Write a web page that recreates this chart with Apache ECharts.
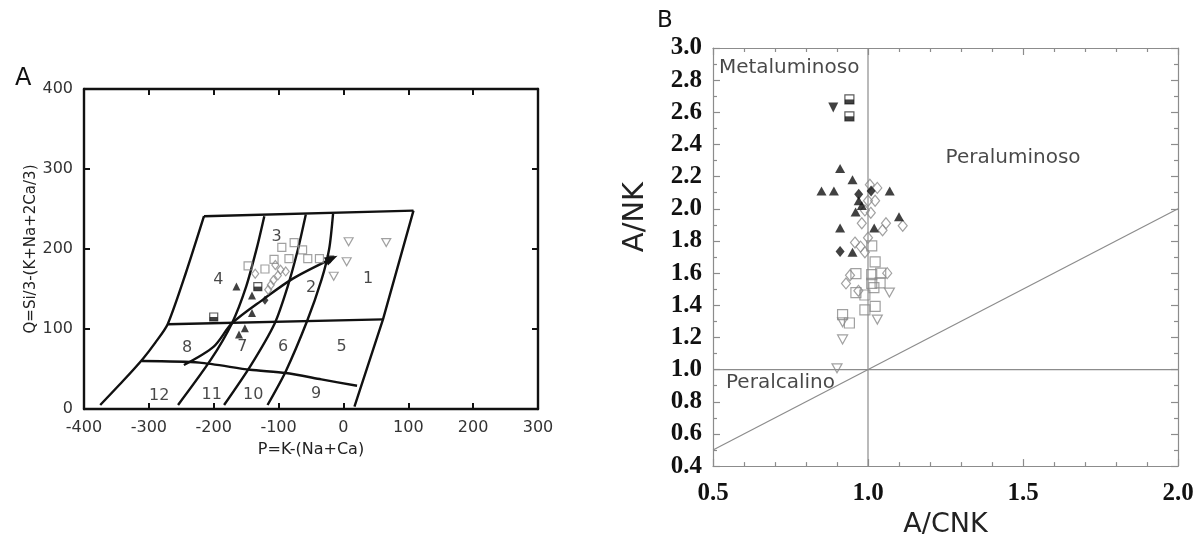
<!DOCTYPE html>
<html>
<head>
<meta charset="utf-8">
<script src="https://cdn.jsdelivr.net/npm/echarts/dist/echarts.min.js"></script>
<style>
  html, body { margin: 0; padding: 0; background: #fff; }
  #chart { width: 1200px; height: 543px; }
</style>
</head>
<body>
<div id="chart"></div>
<script>
// ---------- Panel A: P–Q diagram (P = K-(Na+Ca), Q = Si/3-(K+Na+2Ca/3)) ----------
const pTicksA = [-400, 300, 100];          // min, max, step
const qTicksA = [0, 400, 100];

// field boundaries
const topBoundary    = [[-215, 241], [108, 248]];
const rightBoundary  = [[108, 248], [61, 112], [17, 3]];
const leftBoundary   = [[-215, 241], [-243, 170], [-271, 106], [-290, 83], [-310, 62], [-340, 35], [-375, 5]];
const lineA          = [[-122, 241], [-133, 203], [-150, 153], [-172, 107], [-205, 61], [-255, 5]];
const lineB          = [[-58, 243], [-70, 200], [-86, 153], [-106, 107], [-144, 53], [-184, 5]];
const lineC          = [[-16, 244], [-22, 200], [-34, 161], [-56, 110], [-89, 47], [-117, 5]];
const upperDivide    = [[-271, 106], [61, 112]];
const lowerDivide    = [[-311, 60], [-222, 58], [-144, 49], [-89, 45], [-34, 37], [21, 29]];
const trendArrow     = [[-246, 55], [-200, 78], [-172, 107], [-122, 138], [-78, 163], [-18, 188]];

// field numbers [P, Q, text]
const fieldNumbers = [
  [38, 163, '1'], [-50, 152, '2'], [-103, 215, '3'], [-193, 161, '4'],
  [-3, 78, '5'], [-93, 78, '6'], [-156, 78, '7'], [-241, 76, '8'],
  [-42, 19, '9'], [-139, 18, '10'], [-203, 18, '11'], [-284, 17, '12']
];

// samples
const squaresOpenA   = [[-147, 179], [-121, 175], [-107, 187], [-95, 202], [-84, 188], [-76, 208], [-63, 199], [-55, 188], [-37, 188]];
const diamondsOpenA  = [[-136, 169], [-105, 180], [-97, 174], [-89, 172], [-101, 167], [-108, 161], [-112, 155], [-116, 149]];
const triInvOpenA    = [[-15, 166], [5, 184], [8, 209], [66, 208]];
const triFilledA     = [[-165, 153], [-141, 142], [-141, 120], [-152, 101], [-161, 93]];
const halfSquaresA   = [[-132, 153], [-200, 115]];
const diamondFilledA = [[-121, 136]];
const triInvFilledA  = [[-20, 187]];

// ---------- Panel B: A/NK vs A/CNK ----------
const acnkTicksB = [0.5, 2.0, 0.5];
const ankTicksB  = [0.4, 3.0, 0.2];

const verticalRef   = [[1.0, 0.4], [1.0, 3.0]];
const horizontalRef = [[0.5, 1.0], [2.0, 1.0]];
const diagonalRef   = [[0.5, 0.5], [2.0, 2.0]];

const fieldNamesB = [
  [0.519, 2.877, 'Metaluminoso', 'left'],
  [1.468, 2.319, 'Peraluminoso', 'center'],
  [0.542, 0.920, 'Peralcalino', 'left']
];

const halfSquaresB   = [[0.94, 2.68], [0.94, 2.575]];
const triInvFilledB  = [[0.888, 2.63]];
const triFilledB     = [[0.91, 2.25], [0.95, 2.18], [0.85, 2.11], [0.89, 2.11], [1.07, 2.11], [0.97, 2.05],
                        [0.98, 2.02], [0.96, 1.98], [1.10, 1.95], [0.91, 1.88], [1.02, 1.88], [0.95, 1.73]];
const diamondFilledB = [[1.01, 2.11], [0.97, 2.09], [0.91, 1.735]];
const diamondsOpenB  = [[1.006, 2.15], [1.03, 2.13], [1.0, 2.05], [1.023, 2.05], [0.99, 1.99], [1.009, 1.975],
                        [0.98, 1.91], [1.058, 1.91], [1.112, 1.895], [1.047, 1.867], [1.0, 1.82], [0.958, 1.79],
                        [0.976, 1.765], [0.99, 1.73], [0.942, 1.587], [0.929, 1.536], [1.062, 1.60], [0.969, 1.49]];
const squaresOpenB   = [[1.012, 1.77], [1.023, 1.67], [0.961, 1.597], [1.012, 1.591], [1.041, 1.60], [1.039, 1.54],
                        [1.012, 1.536], [1.019, 1.51], [0.961, 1.479], [0.99, 1.464], [1.023, 1.393], [0.99, 1.372],
                        [0.918, 1.342], [0.94, 1.29]];
const triInvOpenB    = [[1.069, 1.479], [1.03, 1.311], [0.918, 1.294], [0.918, 1.188], [0.90, 1.008]];

// ---------- styling helpers ----------
const SANS = 'DejaVu Sans';
const SERIF = 'Liberation Serif';
const OPEN_GRAY = '#8a8a8a';
const CLEAR = 'rgba(0,0,0,0)';

function fieldLine(data, smooth) {
  return {
    type: 'line', xAxisIndex: 0, yAxisIndex: 0, data: data,
    symbol: 'none', smooth: smooth || 0, silent: true, z: 2,
    lineStyle: { color: '#111', width: 2.4 }
  };
}
function refLine(data) {
  return {
    type: 'line', xAxisIndex: 2, yAxisIndex: 2, data: data,
    symbol: 'none', silent: true, z: 1,
    lineStyle: { color: '#8c8c8c', width: 1.2 }
  };
}
function marks(panel, data, symbol, size, fill, stroke, extra) {
  const ax = panel === 'A' ? 0 : 2;
  return Object.assign({
    type: 'scatter', xAxisIndex: ax, yAxisIndex: ax, data: data,
    symbol: symbol, symbolSize: size, z: 5,
    itemStyle: { color: fill, borderColor: stroke, borderWidth: stroke ? 1.2 : 0 }
  }, extra || {});
}
function halfSquares(panel, data, s) {
  return [
    marks(panel, data, 'rect', [s, s], '#fff', '#333', { z: 6 }),
    marks(panel, data, 'rect', [s, s / 2], '#111', null, { symbolOffset: [0, s / 4], z: 7 })
  ];
}
function textMarks(panel, data, fontSize, color) {
  const ax = panel === 'A' ? 0 : 2;
  return {
    type: 'scatter', xAxisIndex: ax, yAxisIndex: ax, symbolSize: 0, silent: true, z: 8,
    data: data.map(d => ({ value: [d[0], d[1]], name: d[2], label: { align: d[3] || 'center' } })),
    label: {
      show: true, position: 'inside', fontFamily: SANS, fontSize: fontSize, color: color,
      formatter: p => p.name
    }
  };
}

// arrow along the evolution trend
const arrowData = trendArrow.map((p, i) => i === trendArrow.length - 1
  ? { value: p, symbol: 'triangle', symbolSize: [9, 13], symbolRotate: -63 }
  : { value: p, symbol: 'none' });

const chart = echarts.init(document.getElementById('chart'), null, { renderer: 'canvas' });

const axisA = { color: '#111', width: 2.4 };
const tickA = { show: true, inside: true, length: 6, lineStyle: { color: '#111', width: 2 } };
const axisB = { color: '#8c8c8c', width: 1.2 };
const tickB = { show: true, inside: true, length: 7, lineStyle: { color: '#8c8c8c', width: 1.2 } };
const minorB = { show: true, length: 4, lineStyle: { color: '#8c8c8c', width: 1.2 } };

const option = {
  animation: false,
  backgroundColor: '#fff',
  title: [
    { text: 'A', left: 10, top: 62, textStyle: { fontFamily: SANS, fontSize: 24, fontWeight: 'normal', color: '#111' } },
    { text: 'B', left: 652, top: 5, textStyle: { fontFamily: SANS, fontSize: 23, fontWeight: 'normal', color: '#111' } }
  ],
  grid: [
    { left: 84, top: 89, width: 454, height: 320 },
    { left: 713, top: 48, width: 465, height: 424 }
  ],
  xAxis: [
    {
      gridIndex: 0, type: 'value', position: 'bottom',
      min: pTicksA[0], max: pTicksA[1], interval: pTicksA[2],
      axisLine: { onZero: false, lineStyle: axisA }, axisTick: tickA, splitLine: { show: false },
      axisLabel: { fontFamily: SANS, fontSize: 16, color: '#333', margin: 11 },
      name: 'P=K-(Na+Ca)', nameLocation: 'middle', nameGap: 33,
      nameTextStyle: { fontFamily: SANS, fontSize: 16, color: '#222' }
    },
    {
      gridIndex: 0, type: 'value', position: 'top',
      min: pTicksA[0], max: pTicksA[1], interval: pTicksA[2],
      axisLine: { onZero: false, lineStyle: axisA }, axisTick: tickA, splitLine: { show: false },
      axisLabel: { show: false }
    },
    {
      gridIndex: 1, type: 'value', position: 'bottom',
      min: acnkTicksB[0], max: acnkTicksB[1], interval: acnkTicksB[2],
      axisLine: { onZero: false, lineStyle: axisB }, axisTick: tickB,
      minorTick: Object.assign({ splitNumber: 5 }, minorB), splitLine: { show: false },
      axisLabel: { fontFamily: SERIF, fontWeight: 'bold', fontSize: 25, color: '#111', margin: 15,
                   formatter: v => v.toFixed(1) },
      name: 'A/CNK', nameLocation: 'middle', nameGap: 38,
      nameTextStyle: { fontFamily: SANS, fontSize: 27, color: '#222' }
    },
    {
      gridIndex: 1, type: 'value', position: 'top',
      min: acnkTicksB[0], max: acnkTicksB[1], interval: acnkTicksB[2],
      axisLine: { onZero: false, lineStyle: axisB }, axisTick: tickB,
      minorTick: Object.assign({ splitNumber: 5 }, minorB), splitLine: { show: false },
      axisLabel: { show: false }
    }
  ],
  yAxis: [
    {
      gridIndex: 0, type: 'value', position: 'left',
      min: qTicksA[0], max: qTicksA[1], interval: qTicksA[2],
      axisLine: { onZero: false, lineStyle: axisA }, axisTick: tickA, splitLine: { show: false },
      axisLabel: { fontFamily: SANS, fontSize: 16, color: '#333', margin: 11 },
      name: 'Q=Si/3-(K+Na+2Ca/3)', nameLocation: 'middle', nameGap: 42,
      nameTextStyle: { fontFamily: SANS, fontSize: 15, color: '#222' }
    },
    {
      gridIndex: 0, type: 'value', position: 'right',
      min: qTicksA[0], max: qTicksA[1], interval: qTicksA[2],
      axisLine: { onZero: false, lineStyle: axisA }, axisTick: tickA, splitLine: { show: false },
      axisLabel: { show: false }
    },
    {
      gridIndex: 1, type: 'value', position: 'left',
      min: ankTicksB[0], max: ankTicksB[1], interval: ankTicksB[2],
      axisLine: { onZero: false, lineStyle: axisB }, axisTick: tickB,
      minorTick: Object.assign({ splitNumber: 2 }, minorB), splitLine: { show: false },
      axisLabel: { fontFamily: SERIF, fontWeight: 'bold', fontSize: 25, color: '#111', margin: 11,
                   formatter: v => v.toFixed(1) },
      name: 'A/NK', nameLocation: 'middle', nameGap: 63,
      nameTextStyle: { fontFamily: SANS, fontSize: 29, color: '#222', padding: [0, 0, 0, 80] }
    },
    {
      gridIndex: 1, type: 'value', position: 'right',
      min: ankTicksB[0], max: ankTicksB[1], interval: ankTicksB[2],
      axisLine: { onZero: false, lineStyle: axisB }, axisTick: tickB,
      minorTick: Object.assign({ splitNumber: 2 }, minorB), splitLine: { show: false },
      axisLabel: { show: false }
    }
  ],
  series: [
    // Panel A fields
    fieldLine(topBoundary),
    fieldLine(rightBoundary),
    fieldLine(leftBoundary, 0.25),
    fieldLine(lineA, 0.25),
    fieldLine(lineB, 0.25),
    fieldLine(lineC, 0.25),
    fieldLine(upperDivide),
    fieldLine(lowerDivide, 0.25),
    {
      type: 'line', xAxisIndex: 0, yAxisIndex: 0, data: arrowData,
      symbol: 'none', showSymbol: true, smooth: 0.3, silent: true, z: 3,
      lineStyle: { color: '#111', width: 2.4 }, itemStyle: { color: '#111' }
    },
    textMarks('A', fieldNumbers, 16, '#1a1a1a'),

    // Panel A samples
    marks('A', squaresOpenA, 'rect', [8, 8], CLEAR, OPEN_GRAY),
    marks('A', diamondsOpenA, 'diamond', [7, 9], CLEAR, OPEN_GRAY),
    marks('A', triInvOpenA, 'triangle', [9, 8], CLEAR, OPEN_GRAY, { symbolRotate: 180 }),
    marks('A', triFilledA, 'triangle', [8, 8], '#111', null),
    ...halfSquares('A', halfSquaresA, 8),
    marks('A', diamondFilledA, 'diamond', [7, 9], '#111', null),
    marks('A', triInvFilledA, 'triangle', [8, 8], '#111', null, { symbolRotate: 180 }),

    // Panel B reference lines and fields
    refLine(verticalRef),
    refLine(horizontalRef),
    refLine(diagonalRef),
    {
      type: 'scatter', xAxisIndex: 2, yAxisIndex: 2, symbolSize: 0, silent: true, z: 8,
      data: fieldNamesB.map(d => ({ value: [d[0], d[1]], name: d[2], label: { align: d[3] } })),
      label: { show: true, position: 'inside', fontFamily: SANS, fontSize: 20, color: '#1a1a1a',
               formatter: p => p.name }
    },

    // Panel B samples
    marks('B', squaresOpenB, 'rect', [10, 10], CLEAR, OPEN_GRAY),
    marks('B', diamondsOpenB, 'diamond', [9, 11], CLEAR, OPEN_GRAY),
    marks('B', triInvOpenB, 'triangle', [10, 9], CLEAR, OPEN_GRAY, { symbolRotate: 180 }),
    marks('B', triFilledB, 'triangle', [10, 9], '#111', null),
    marks('B', diamondFilledB, 'diamond', [9, 11], '#111', null),
    ...halfSquares('B', halfSquaresB, 9),
    marks('B', triInvFilledB, 'triangle', [10, 10], '#111', null, { symbolRotate: 180 })
  ]
};

chart.setOption(option);
</script>
</body>
</html>
